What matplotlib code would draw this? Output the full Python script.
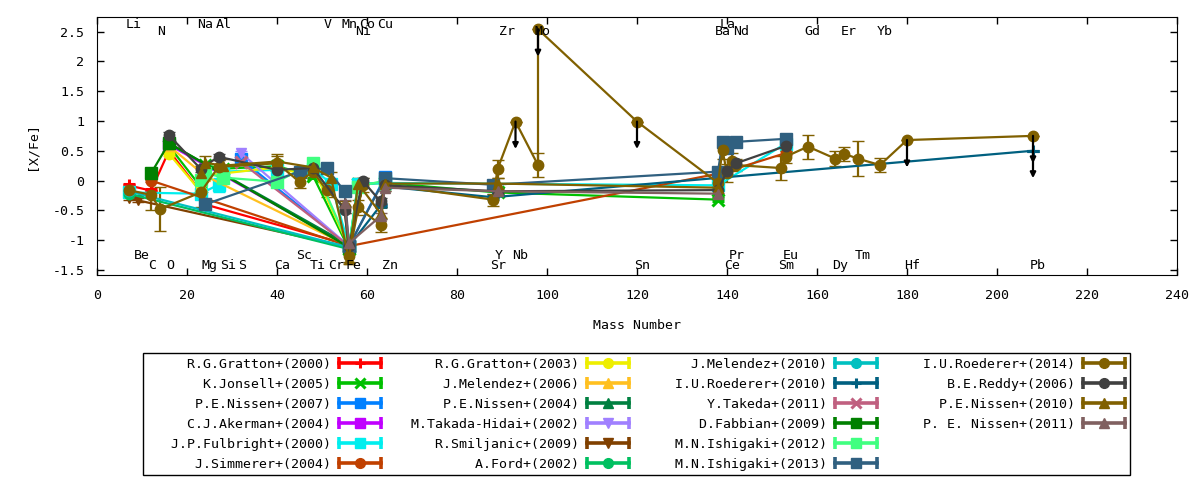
import matplotlib.pyplot as plt
from matplotlib.lines import Line2D
from matplotlib.patches import Rectangle
from matplotlib.legend_handler import HandlerLine2D, HandlerTuple
from matplotlib.ticker import FormatStrFormatter

plt.rcParams['font.family'] = ['DejaVu Sans Mono']
plt.rcParams['font.size'] = 9.5
plt.rcParams['axes.unicode_minus'] = False

# mass number used for each element
mass = {'Li': 7, 'Be': 9, 'C': 12, 'N': 14, 'O': 16, 'Na': 23, 'Mg': 24, 'Al': 27,
        'Si': 28, 'S': 32, 'Ca': 40, 'Sc': 45, 'Ti': 48, 'V': 51, 'Cr': 52, 'Mn': 55,
        'Fe': 56, 'Co': 59, 'Ni': 58, 'Cu': 63, 'Zn': 64, 'Sr': 88, 'Y': 89, 'Zr': 90,
        'Nb': 93, 'Mo': 98, 'Sn': 120, 'Ba': 138, 'La': 139, 'Ce': 140, 'Pr': 141,
        'Nd': 142, 'Sm': 152, 'Eu': 153, 'Gd': 158, 'Dy': 164, 'Er': 166, 'Tm': 169,
        'Yb': 174, 'Hf': 180, 'Pb': 208}

# element labels: 0 = top, 1 = top (lower), 2 = bottom (upper), 3 = bottom
label_el = ['Li', 'Na', 'Al', 'V', 'Mn', 'Co', 'Cu', 'La',
            'N', 'Ni', 'Zr', 'Mo', 'Ba', 'Nd', 'Gd', 'Er', 'Yb',
            'Be', 'Sc', 'Y', 'Nb', 'Pr', 'Eu', 'Tm',
            'C', 'O', 'Mg', 'Si', 'S', 'Ca', 'Ti', 'Cr', 'Fe', 'Zn', 'Sr', 'Sn',
            'Ce', 'Sm', 'Dy', 'Hf', 'Pb']
label_row = [0] * 8 + [1] * 9 + [2] * 7 + [3] * 17

# ---- data, one set of lists per paper ----
gratton2000_el = ['Li', 'C', 'O', 'Na', 'Mg', 'Fe']
gratton2000_y = [-0.08, -0.17, 0.50, -0.18, -0.40, -1.08]
gratton2000_err = [0.03, 0.03, 0.03, 0.03, 0.03, 0.03]

jonsell2005_el = ['O', 'Na', 'Mg', 'Si', 'Ca', 'Ti', 'Fe', 'Ni', 'Zn', 'Y', 'Ba']
jonsell2005_y = [0.58, -0.10, 0.26, 0.20, 0.24, 0.08, -1.15, -0.06, -0.04, -0.20, -0.32]
jonsell2005_err = [0.03] * 11

nissen2007_el = ['S', 'Fe', 'Zn']
nissen2007_y = [0.36, -1.10, 0.06]
nissen2007_err = [0.03, 0.03, 0.03]

akerman2004_el = ['O', 'Fe']
akerman2004_y = [0.60, -1.10]
akerman2004_err = [0.03, 0.03]

fulbright2000_el = ['Li', 'Na', 'Al', 'Si', 'Ca', 'Ti', 'Cr', 'Fe', 'Ni', 'Zn', 'Ba', 'Eu']
fulbright2000_y = [-0.20, -0.22, -0.07, 0.15, 0.18, 0.20, -0.05, -1.10, -0.06, -0.04, -0.08, 0.62]
fulbright2000_err = [0.03, 0.03, 0.12, 0.03, 0.03, 0.03, 0.03, 0.03, 0.03, 0.03, 0.03, 0.05]

simmerer2004_el = ['C', 'Fe', 'La', 'Eu']
simmerer2004_y = [0.00, -1.10, 0.13, 0.46]
simmerer2004_err = [0.03, 0.03, 0.03, 0.03]

gratton2003_el = ['O', 'Na', 'Mg', 'Si', 'Ca', 'Sc', 'Ti', 'Fe']
gratton2003_y = [0.45, -0.18, 0.08, 0.12, 0.22, 0.12, 0.22, -1.12]
gratton2003_err = [0.03] * 8

melendez2006_el = ['O', 'Mg', 'Fe']
melendez2006_y = [0.58, 0.08, -1.10]
melendez2006_err = [0.03, 0.03, 0.03]

nissen2004_el = ['O', 'Fe']
nissen2004_y = [0.62, -1.08]
nissen2004_err = [0.03, 0.03]

takada2002_el = ['S', 'Fe']
takada2002_y = [0.46, -1.10]
takada2002_err = [0.03, 0.03]

smiljanic2009_el = ['Li', 'Be', 'Fe']
smiljanic2009_y = [-0.30, -0.33, -1.12]
smiljanic2009_err = [0.03, 0.03, 0.03]

ford2002_el = ['Li', 'Fe']
ford2002_y = [-0.22, -1.15]
ford2002_err = [0.03, 0.03]

melendez2010_el = ['Li', 'Fe']
melendez2010_y = [-0.18, -1.12]
melendez2010_err = [0.03, 0.03]

roederer2010_el = ['Fe', 'Cu', 'Zn', 'Sr', 'Pb']
roederer2010_y = [-1.10, -0.42, -0.10, -0.28, 0.50]
roederer2010_err = [0.03, 0.03, 0.03, 0.03, 0.0]
roederer2010_lim = [0, 0, 0, 0, 1]

takeda2011_el = ['S', 'Fe']
takeda2011_y = [0.31, -1.10]
takeda2011_err = [0.03, 0.03]

fabbian2009_el = ['C', 'O', 'Fe']
fabbian2009_y = [0.12, 0.63, -1.12]
fabbian2009_err = [0.03, 0.03, 0.03]

ishigaki2012_el = ['Na', 'Mg', 'Si', 'Ca', 'Ti', 'Fe', 'Ni', 'Zn']
ishigaki2012_y = [0.01, 0.13, 0.05, -0.02, 0.29, -1.10, -0.10, 0.00]
ishigaki2012_err = [0.05] * 8

ishigaki2013_el = ['Mg', 'Sc', 'V', 'Mn', 'Fe', 'Zn', 'Sr', 'Ba', 'La', 'Ce', 'Nd', 'Eu']
ishigaki2013_y = [-0.40, 0.15, 0.21, -0.18, -1.10, 0.04, -0.07, 0.15, 0.65, 0.55, 0.65, 0.70]
ishigaki2013_err = [0.05, 0.05, 0.08, 0.08, 0.05, 0.08, 0.05, 0.08, 0.08, 0.08, 0.08, 0.05]

roederer2014_el = ['Li', 'C', 'N', 'Na', 'Al', 'Ca', 'Sc', 'Ti', 'V', 'Mn', 'Fe', 'Co',
                   'Ni', 'Cu', 'Zn', 'Sr', 'Y', 'Nb', 'Mo', 'Mo', 'Sn', 'Ba', 'La', 'Ce',
                   'Pr', 'Nd', 'Sm', 'Eu', 'Gd', 'Dy', 'Er', 'Tm', 'Yb', 'Hf', 'Pb']
roederer2014_y = [-0.16, -0.24, -0.48, -0.20, 0.23, 0.29, -0.02, 0.15, -0.16, -0.45, -1.27,
                  -0.08, -0.45, -0.74, -0.07, -0.32, 0.19, 0.99, 0.26, 2.54, 0.99, -0.04,
                  0.51, 0.12, 0.32, 0.26, 0.21, 0.40, 0.57, 0.37, 0.45, 0.37, 0.26, 0.68, 0.75]
roederer2014_err = [0.05, 0.25, 0.37, 0.25, 0.12, 0.12, 0.10, 0.10, 0.12, 0.10, 0.10,
                    0.12, 0.12, 0.12, 0.10, 0.10, 0.15, 0.0, 0.20, 0.0, 0.0, 0.10,
                    0.15, 0.15, 0.15, 0.10, 0.20, 0.10, 0.20, 0.12, 0.12, 0.30, 0.12, 0.0, 0.0]
roederer2014_lim = [0] * 17 + [1, 0, 1, 1] + [0] * 12 + [1, 1]

reddy2006_el = ['O', 'Na', 'Al', 'Ca', 'Ti', 'Mn', 'Fe', 'Co', 'Cu', 'Zn', 'Y', 'Ba', 'Ce', 'Nd', 'Eu']
reddy2006_y = [0.76, 0.20, 0.40, 0.18, 0.21, -0.49, -1.10, 0.00, -0.35, -0.08, -0.18, -0.16, 0.16, 0.29, 0.58]
reddy2006_err = [0.05] * 15

nissen2010_el = ['Na', 'Mg', 'Si', 'Ca', 'Ti', 'Cr', 'Fe', 'Ni', 'Cu', 'Zn', 'Y', 'Ba']
nissen2010_y = [0.12, 0.30, 0.25, 0.32, 0.22, 0.05, -1.32, -0.05, -0.55, -0.05, -0.05, -0.12]
nissen2010_err = [0.12, 0.12, 0.12, 0.12, 0.10, 0.10, 0.08, 0.10, 0.10, 0.10, 0.10, 0.10]

nissen2011_el = ['Mn', 'Fe', 'Cu', 'Zn', 'Y', 'Ba']
nissen2011_y = [-0.37, -1.05, -0.60, -0.12, -0.18, -0.22]
nissen2011_err = [0.05] * 6

series = [
    ('R.G.Gratton+(2000)', gratton2000_el, gratton2000_y, gratton2000_err, None, '#ff0000', '+'),
    ('K.Jonsell+(2005)', jonsell2005_el, jonsell2005_y, jonsell2005_err, None, '#00c000', 'x'),
    ('P.E.Nissen+(2007)', nissen2007_el, nissen2007_y, nissen2007_err, None, '#0080ff', 's'),
    ('C.J.Akerman+(2004)', akerman2004_el, akerman2004_y, akerman2004_err, None, '#c000ff', 's'),
    ('J.P.Fulbright+(2000)', fulbright2000_el, fulbright2000_y, fulbright2000_err, None, '#00eeee', 's'),
    ('J.Simmerer+(2004)', simmerer2004_el, simmerer2004_y, simmerer2004_err, None, '#c04000', 'o'),
    ('R.G.Gratton+(2003)', gratton2003_el, gratton2003_y, gratton2003_err, None, '#eeee00', 'o'),
    ('J.Melendez+(2006)', melendez2006_el, melendez2006_y, melendez2006_err, None, '#ffc020', '^'),
    ('P.E.Nissen+(2004)', nissen2004_el, nissen2004_y, nissen2004_err, None, '#008040', '^'),
    ('M.Takada-Hidai+(2002)', takada2002_el, takada2002_y, takada2002_err, None, '#a080ff', 'v'),
    ('R.Smiljanic+(2009)', smiljanic2009_el, smiljanic2009_y, smiljanic2009_err, None, '#804000', 'v'),
    ('A.Ford+(2002)', ford2002_el, ford2002_y, ford2002_err, None, '#00c060', 'o'),
    ('J.Melendez+(2010)', melendez2010_el, melendez2010_y, melendez2010_err, None, '#00c0c0', 'o'),
    ('I.U.Roederer+(2010)', roederer2010_el, roederer2010_y, roederer2010_err, roederer2010_lim, '#006080', '+'),
    ('Y.Takeda+(2011)', takeda2011_el, takeda2011_y, takeda2011_err, None, '#c06080', 'x'),
    ('D.Fabbian+(2009)', fabbian2009_el, fabbian2009_y, fabbian2009_err, None, '#008000', 's'),
    ('M.N.Ishigaki+(2012)', ishigaki2012_el, ishigaki2012_y, ishigaki2012_err, None, '#40ff80', 's'),
    ('M.N.Ishigaki+(2013)', ishigaki2013_el, ishigaki2013_y, ishigaki2013_err, None, '#306080', 's'),
    ('I.U.Roederer+(2014)', roederer2014_el, roederer2014_y, roederer2014_err, roederer2014_lim, '#806000', 'o'),
    ('B.E.Reddy+(2006)', reddy2006_el, reddy2006_y, reddy2006_err, None, '#404040', 'o'),
    ('P.E.Nissen+(2010)', nissen2010_el, nissen2010_y, nissen2010_err, None, '#806000', '^'),
    ('P. E. Nissen+(2011)', nissen2011_el, nissen2011_y, nissen2011_err, None, '#806060', '^'),
]

fig = plt.figure(figsize=(12, 4.8), dpi=100)
ax = fig.add_axes([97 / 1200, 1 - 275.3 / 480, 1080 / 1200, 258 / 480])

handles = []
labels = []
handler_map = {tuple: HandlerTuple(ndivide=1)}
for name, els, ys, errs, lims, color, mk in series:
    xs = [mass[e] for e in els]
    mew = 2.2 if mk in ('+', 'x') else 1
    ms = 8.5 if mk in ('+', 'x', 's') else 7.5
    ax.errorbar(xs, ys, yerr=errs, color=color, marker=mk, ms=ms, mew=mew,
                lw=1.6, elinewidth=1.6, capsize=4, capthick=1.6)
    if lims:
        for x, y, flag in zip(xs, ys, lims):
            if flag:
                ax.annotate('', xy=(x, y - 0.46), xytext=(x, y),
                            arrowprops=dict(arrowstyle='-|>', color='black', lw=1.6,
                                            mutation_scale=8, shrinkA=0, shrinkB=0))
    caps = Line2D([], [], color=color, lw=2.6, marker='|', ms=9, mew=2.6)
    mid = Line2D([], [], color=color, lw=0, marker=mk, ms=7, mew=mew)
    handler_map[caps] = HandlerLine2D(numpoints=2, marker_pad=0)
    handles.append((caps, mid))
    labels.append(name.rjust(22))

# two empty slots so the last legend column holds four entries, as in gnuplot
for _ in range(2):
    handles.append(Line2D([], [], lw=0, alpha=0))
    labels.append('')

# element names along top and bottom
row_y = [2.62, 2.50, -1.26, -1.43]
for el, r in zip(label_el, label_row):
    ax.text(mass[el] - 0.7, row_y[r], el, ha='left', va='center')

ax.set_xlim(0, 240)
ax.set_ylim(-1.59, 2.74)
ax.set_xticks(range(0, 241, 20))
ax.set_yticks([-1.5, -1, -0.5, 0, 0.5, 1, 1.5, 2, 2.5])
ax.yaxis.set_major_formatter(FormatStrFormatter('%g'))
ax.tick_params(direction='in', top=True, right=True, length=5, width=1)
ax.tick_params(axis='x', pad=10)
ax.tick_params(axis='y', pad=9)
ax.set_xlabel('Mass Number')
ax.xaxis.set_label_coords(0.5, -0.193)
ax.xaxis.label.set_va('center')
ax.set_ylabel('[X/Fe]')
ax.yaxis.set_label_coords(-0.060, 0.5)
ax.yaxis.label.set_va('center')

fig.legend(handles, labels, ncol=4, loc='upper left', handler_map=handler_map,
           bbox_to_anchor=(155 / 1200, 1 - 358 / 480), frameon=False, markerfirst=False,
           borderpad=0, borderaxespad=0, handlelength=3.18, handletextpad=0.6,
           columnspacing=1.67, labelspacing=0.53)
fig.add_artist(Rectangle((143 / 1200, 1 - 475 / 480), 987 / 1200, 122 / 480,
                         transform=fig.transFigure, fill=False, lw=1, ec='black'))

fig.savefig('out.png', dpi=100)
